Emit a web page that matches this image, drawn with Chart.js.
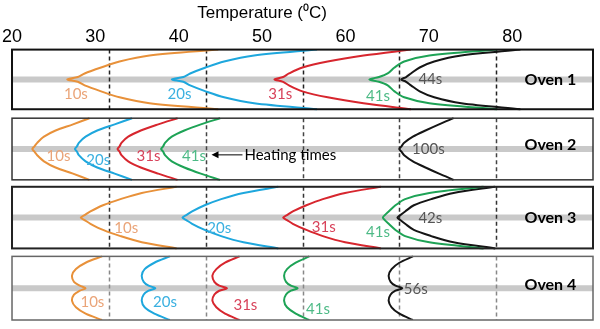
<!DOCTYPE html>
<html>
<head>
<meta charset="utf-8">
<script src="https://cdn.jsdelivr.net/npm/chart.js"></script>
<style>
  body { margin: 0; background: #fff; }
</style>
</head>
<body>
<canvas id="chart" width="600" height="329"></canvas>
<script>
// depth through the slab, -1 = top surface, 0 = middle, 1 = bottom surface
const depths = [-1, -0.8, -0.6, -0.4, -0.2, -0.08, 0, 0.08, 0.2, 0.4, 0.6, 0.8, 1];

// temperature (C) along depth, one row per heating time
const oven1Times = ['10s', '20s', '31s', '41s', '44s'];
const oven1Temps = [
  [41.3, 34.2, 31.1, 29.2, 27.5, 26.8, 25.7, 26.8, 27.5, 29.2, 31.1, 34.2, 41.3],
  [51.5, 45.0, 41.9, 40.0, 38.4, 37.7, 36.5, 37.7, 38.4, 40.0, 41.9, 45.0, 51.5],
  [61.2, 56.3, 52.6, 50.0, 48.6, 48.0, 47.1, 48.0, 48.6, 50.0, 52.6, 56.3, 61.2],
  [70.1, 63.1, 60.5, 59.5, 58.8, 57.9, 56.9, 57.9, 58.8, 59.5, 60.5, 63.1, 70.1],
  [72.5, 66.4, 63.6, 62.1, 61.2, 60.7, 60.2, 60.7, 61.2, 62.1, 63.6, 66.4, 72.5]
];

const oven2Times = ['10s', '20s', '31s', '41s', '100s'];
const oven2Temps = [
  [28.0, 26.3, 24.5, 23.3, 22.6, 22.3, 22.1, 22.3, 22.6, 23.3, 24.5, 26.3, 28.0],
  [32.4, 30.6, 28.8, 27.6, 26.9, 26.7, 26.5, 26.7, 26.9, 27.6, 28.8, 30.6, 32.4],
  [37.1, 35.1, 33.3, 32.0, 31.3, 31.1, 30.9, 31.1, 31.3, 32.0, 33.3, 35.1, 37.1],
  [41.5, 39.5, 37.8, 36.5, 35.8, 35.6, 35.4, 35.6, 35.8, 36.5, 37.8, 39.5, 41.5],
  [65.6, 64.1, 62.7, 61.4, 60.5, 60.2, 60.0, 60.2, 60.5, 61.4, 62.7, 64.1, 65.6]
];

const oven3Times = ['10s', '20s', '31s', '41s', '42s'];
const oven3Temps = [
  [37.0, 33.4, 31.2, 29.4, 28.1, 27.5, 27.1, 27.5, 28.1, 29.4, 31.2, 33.4, 37.0],
  [47.5, 43.9, 41.6, 39.9, 38.6, 38.0, 37.6, 38.0, 38.6, 39.9, 41.6, 43.9, 47.5],
  [58.1, 54.4, 52.1, 50.4, 49.0, 48.4, 48.0, 48.4, 49.0, 50.4, 52.1, 54.4, 58.1],
  [68.7, 63.1, 60.6, 59.6, 58.9, 58.5, 58.3, 58.5, 58.9, 59.6, 60.6, 63.1, 68.7],
  [69.9, 65.6, 63.3, 61.5, 60.6, 60.1, 59.8, 60.1, 60.6, 61.5, 63.3, 65.6, 69.9]
];

const oven4Times = ['10s', '20s', '31s', '41s', '56s'];
const oven4Temps = [
  [29.3, 27.6, 26.6, 26.2, 26.4, 27.0, 27.6, 27.0, 26.4, 26.2, 26.6, 27.6, 29.3],
  [36.3, 34.7, 33.7, 33.4, 33.6, 34.1, 34.8, 34.1, 33.6, 33.4, 33.7, 34.7, 36.3],
  [43.5, 42.0, 41.1, 40.7, 40.9, 41.4, 42.2, 41.4, 40.9, 40.7, 41.1, 42.0, 43.5],
  [50.7, 49.3, 48.4, 48.1, 48.3, 48.8, 49.5, 48.8, 48.3, 48.1, 48.4, 49.3, 50.7],
  [61.4, 60.0, 59.2, 58.9, 59.1, 59.6, 60.3, 59.6, 59.1, 58.9, 59.2, 60.0, 61.4]
];

const ovenNames = ['Oven 1', 'Oven 2', 'Oven 3', 'Oven 4'];
const tickValues = [20, 30, 40, 50, 60, 70, 80];
const gridTemps = [30, 40, 50, 60, 70];

// layout: panel middle and half height in y units, label spots as [temp, depth]
const panelCenters = [30, 100, 169, 240];
const panelHalf = [30, 31, 31, 32];
const labelPos = [
  [[26.6, 0.5], [37.3, 0.5], [47.7, 0.5], [57.8, 0.57], [63.2, 0]],
  [[24.8, 0.23], [28.9, 0.36], [34.1, 0.23], [38.8, 0.23], [63.0, 0]],
  [[31.8, 0.35], [41.4, 0.35], [52.2, 0.32], [57.8, 0.48], [63.2, 0.03]],
  [[28.3, 0.44], [35.8, 0.44], [44.1, 0.53], [51.6, 0.66], [61.7, 0.03]]
];
const ovenLabelDepth = [0, -0.13, 0, -0.1];

const lineColors = ['#e8913a', '#1ea7dd', '#d7262e', '#1ea356', '#151515'];
const textColors = ['#eaa478', '#3ab0e0', '#d8425a', '#4dba86', '#555555'];
const boxColors = ['#111', '#333', '#222', '#666'];
const boxWidths = [2, 1.5, 2, 1.5];
const dashColors = ['#222', '#444', '#333', '#888'];

const allTemps = [oven1Temps, oven2Temps, oven3Temps, oven4Temps];
const allTimes = [oven1Times, oven2Times, oven3Times, oven4Times];

const datasets = [];
allTemps.forEach((rows, p) => {
  rows.forEach((temps, s) => {
    datasets.push({
      label: ovenNames[p] + ' ' + allTimes[p][s],
      data: temps.map((t, i) => ({x: t, y: panelCenters[p] + depths[i] * panelHalf[p]})),
      borderColor: lineColors[s],
      borderWidth: 2,
      pointRadius: 0,
      tension: 0.3,
      fill: false
    });
  });
});

const panels = {
  id: 'panels',
  beforeDatasetsDraw(chart) {
    const {ctx, scales: {x, y}} = chart;
    panelCenters.forEach((c, p) => {
      const top = y.getPixelForValue(c - panelHalf[p]);
      const bot = y.getPixelForValue(c + panelHalf[p]);
      const mid = y.getPixelForValue(c);
      ctx.save();
      // grey mid-plane band
      ctx.strokeStyle = '#c9c9c9';
      ctx.lineWidth = 6;
      ctx.beginPath();
      ctx.moveTo(x.getPixelForValue(20), mid);
      ctx.lineTo(x.getPixelForValue(80), mid);
      ctx.stroke();
      // dashed temperature lines
      ctx.strokeStyle = dashColors[p];
      ctx.lineWidth = 1.5;
      ctx.setLineDash([4, 3]);
      gridTemps.forEach(t => {
        const px = Math.round(x.getPixelForValue(t)) + 0.5;
        ctx.beginPath();
        ctx.moveTo(px, top);
        ctx.lineTo(px, bot);
        ctx.stroke();
      });
      ctx.restore();
    });
  },
  afterDatasetsDraw(chart) {
    const {ctx, scales: {x, y, xt}} = chart;
    ctx.save();
    panelCenters.forEach((c, p) => {
      const top = y.getPixelForValue(c - panelHalf[p]);
      const bot = y.getPixelForValue(c + panelHalf[p]);
      const left = x.getPixelForValue(20);
      const right = x.getPixelForValue(80);
      ctx.strokeStyle = boxColors[p];
      ctx.lineWidth = boxWidths[p];
      ctx.strokeRect(left, top, right - left, bot - top);

      ctx.textAlign = 'center';
      ctx.textBaseline = 'middle';
      ctx.font = '15px Lato, "Open Sans", sans-serif';
      labelPos[p].forEach((pos, s) => {
        ctx.fillStyle = textColors[s];
        ctx.fillText(allTimes[p][s], x.getPixelForValue(pos[0]), y.getPixelForValue(c + pos[1] * panelHalf[p]));
      });
      ctx.fillStyle = '#000';
      ctx.font = 'bold 16px Lato, "Open Sans", sans-serif';
      ctx.fillText(ovenNames[p], x.getPixelForValue(75.6), y.getPixelForValue(c + ovenLabelDepth[p] * panelHalf[p]));
    });

    // arrow + note in oven 2
    const ay = y.getPixelForValue(panelCenters[1] + 0.19 * panelHalf[1]);
    const ax0 = x.getPixelForValue(43.8);
    const ax1 = x.getPixelForValue(40.6);
    ctx.strokeStyle = '#000';
    ctx.fillStyle = '#000';
    ctx.lineWidth = 1;
    ctx.beginPath();
    ctx.moveTo(ax0, ay);
    ctx.lineTo(ax1 + 5, ay);
    ctx.stroke();
    ctx.beginPath();
    ctx.moveTo(ax1, ay);
    ctx.lineTo(ax1 + 7, ay - 3.5);
    ctx.lineTo(ax1 + 7, ay + 3.5);
    ctx.closePath();
    ctx.fill();
    ctx.textAlign = 'left';
    ctx.font = '15px Lato, "Open Sans", sans-serif';
    ctx.fillText('Heating times', x.getPixelForValue(44.0), ay);

    // axis title, centred over the tick labels
    ctx.textAlign = 'center';
    ctx.font = '17px "Liberation Sans", Arial, sans-serif';
    ctx.fillText('Temperature (\u2070C)', xt.getPixelForValue(50), 13);
    ctx.restore();
  }
};

const ctx = document.getElementById('chart');

new Chart(ctx, {
  type: 'line',
  data: { datasets: datasets },
  options: {
    responsive: false,
    devicePixelRatio: 1,
    animation: false,
    layout: { padding: { top: 24, left: 10, right: 7, bottom: 9 } },
    plugins: { legend: { display: false }, tooltip: { enabled: false } },
    scales: {
      x: { type: 'linear', min: 20, max: 80, display: false },
      xt: {
        type: 'linear',
        position: 'top',
        min: 20,
        max: 89.7,
        afterBuildTicks: s => { s.ticks = tickValues.map(v => ({value: v})); },
        ticks: {
          color: '#000',
          padding: 2,
          maxRotation: 0,
          autoSkip: false,
          font: { size: 18, family: '"Liberation Sans", Arial, sans-serif' }
        },
        grid: { display: false, drawTicks: false },
        border: { display: false }
      },
      y: { type: 'linear', min: 0, max: 272, reverse: true, display: false }
    }
  },
  plugins: [panels]
});
</script>
</body>
</html>
